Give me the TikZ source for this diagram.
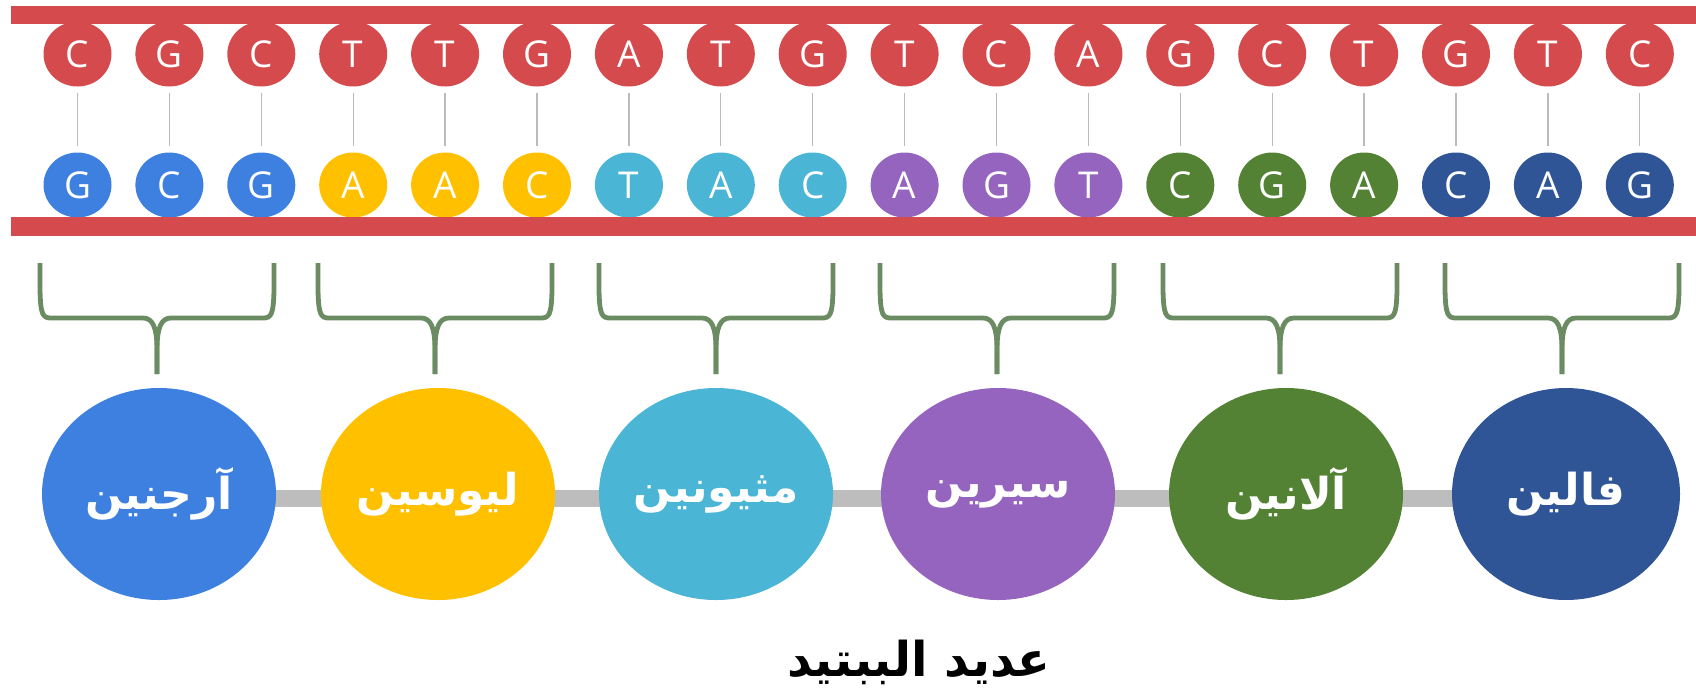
\documentclass[tikz,border=0pt]{standalone}
\usepackage{fontspec}
\setmainfont{Open Sans}
\newfontfamily\arabicfont[Script=Arabic]{DejaVu Sans}
\TeXXeTstate=1
\usetikzlibrary{shapes.geometric,backgrounds}
\definecolor{dnared}{HTML}{D54B4D}
\definecolor{cblue}{HTML}{3E80E0}
\definecolor{cyellow}{HTML}{FFC000}
\definecolor{ccyan}{HTML}{4BB5D5}
\definecolor{cpurple}{HTML}{9564BF}
\definecolor{cgreen}{HTML}{548235}
\definecolor{cnavy}{HTML}{2F5597}
\definecolor{bracegreen}{HTML}{6B8B62}
\definecolor{pairgray}{HTML}{BBBBBB}
\definecolor{linkgray}{HTML}{BDBDBD}
\tikzset{
  base/.style={ellipse, minimum width=68pt, minimum height=65pt, inner sep=0pt,
    text=white, font=\fontsize{37}{40}\selectfont},
  topbase/.style={base, fill=dnared},
  pairline/.style={draw=pairgray, line width=1.3pt, shorten >=6pt, shorten <=6pt},
  strand/.style={fill=dnared},
  bracestyle/.style={draw=bracegreen, line width=4.8pt, line join=round},
  amino/.style={ellipse, minimum width=234pt, minimum height=212pt, inner sep=0pt,
    text=white, font=\arabicfont\bfseries\fontsize{44}{48}\selectfont},
  linkbar/.style={draw=linkgray, line width=17pt}
}
\begin{document}
\begin{tikzpicture}[x=1pt,y=-1pt]
\useasboundingbox (0,0) rectangle (1696,696);
% top strand bases
\foreach \L [count=\i] in {C,G,C,T,T,G,A,T,G,T,C,A,G,C,T,G,T,C}{
  \node[topbase] (t\i) at ({77.5+(\i-1)*91.9},54) {\L};
}
% bottom strand bases
\foreach \L/\col [count=\i] in {G/cblue,C/cblue,G/cblue,A/cyellow,A/cyellow,C/cyellow,T/ccyan,A/ccyan,C/ccyan,A/cpurple,G/cpurple,T/cpurple,C/cgreen,G/cgreen,A/cgreen,C/cnavy,A/cnavy,G/cnavy}{
  \node[base, fill=\col] (b\i) at ({77.5+(\i-1)*91.9},185) {\L};
}
\foreach \i in {1,...,18}{
  \draw[pairline] (t\i) -- (b\i);
}
% strands
\fill[strand] (11,6) rectangle (1696,24);
\fill[strand] (11,217) rectangle (1696,236);
% braces
\foreach \c in {157,435,716,997,1280,1562}{
  \draw[bracestyle] (\c-117,263) -- (\c-117,290) .. controls (\c-116.5,315) and (\c-114,318) .. (\c-106,318)
     -- (\c-14,318) .. controls (\c-4,318) and (\c,328) .. (\c,350) -- (\c,374);
  \draw[bracestyle] (\c+117,263) -- (\c+117,290) .. controls (\c+116.5,315) and (\c+114,318) .. (\c+106,318)
     -- (\c+14,318) .. controls (\c+4,318) and (\c,328) .. (\c,350) -- (\c,374);
}
% amino acids
\node[amino, fill=cblue] (e1) at (159,494) {\beginR آرجنين\endR};
\node[amino, fill=cyellow] (e2) at (438,494) {\beginR ليوسين\endR};
\node[amino, fill=ccyan] (e3) at (716,494) {\beginR مثيونين\endR};
\node[amino, fill=cpurple] (e4) at (998,494) {\beginR سيرين\endR};
\node[amino, fill=cgreen] (e5) at (1286,494) {\beginR آلانين\endR};
\node[amino, fill=cnavy, minimum width=228pt] (e6) at (1566,494) {\beginR فالين\endR};
\begin{scope}[on background layer]
  \draw[linkbar] ([yshift=-4pt]e1.center) -- ([yshift=-4pt]e6.center);
\end{scope}
\node[font=\arabicfont\bfseries\fontsize{48}{54}\selectfont] (title) at (919,662) {\beginR عديد الببتيد\endR};
\end{tikzpicture}
\end{document}
